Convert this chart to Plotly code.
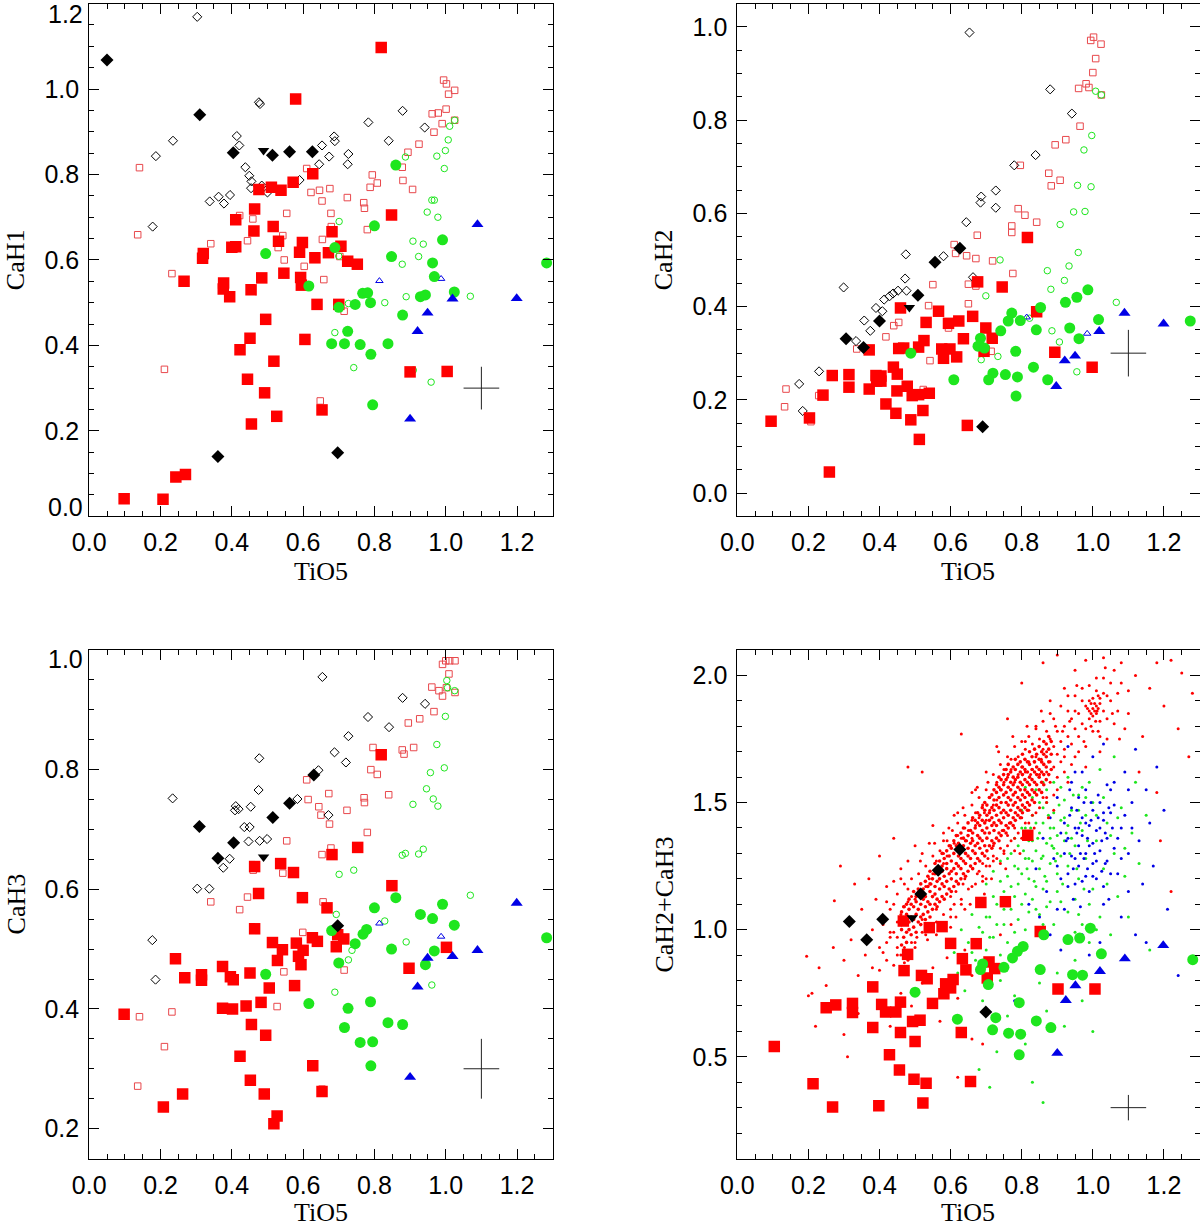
import plotly.graph_objects as go
from plotly.subplots import make_subplots

# ---------------- tick labels ----------------
TIO5_TICKS = [0.0, 0.2, 0.4, 0.6, 0.8, 1.0, 1.2]
CAH1_TICKS = [0.2, 0.4, 0.6, 0.8, 1.0]
CAH1_END_TICKS = [0.0, 1.2]
CAH2_TICKS = [0.0, 0.2, 0.4, 0.6, 0.8, 1.0]
CAH3_TICKS = [0.2, 0.4, 0.6, 0.8]
CAH3_END_TICKS = [1.0]
SUM_TICKS = [0.5, 1.0, 1.5, 2.0]

# typical error bar (centre and half widths)
ERR_X, ERR_Y, ERR_DX, ERR_DY = 1.1, 0.3, 0.05, 0.05

# ---------------- panel 1 : CaH1 vs TiO5 ----------------
CAH1_RED_FILLED = [(0.819,1.097),(0.579,0.977),(0.627,0.802),(0.572,0.782),(0.538,0.763),(0.511,0.770),(0.476,0.765),(0.464,0.719),(0.411,0.694),(0.462,0.668),(0.516,0.678),(0.531,0.644),(0.598,0.641),(0.681,0.666),(0.848,0.705),(0.706,0.632),(0.633,0.605),(0.590,0.618),(0.671,0.617),(0.725,0.597),(0.752,0.590),(0.320,0.615),(0.318,0.604),(0.400,0.630),(0.411,0.631),(0.377,0.546),(0.376,0.532),(0.266,0.550),(0.394,0.514),(0.454,0.530),(0.484,0.558),(0.546,0.569),(0.593,0.559),(0.595,0.541),(0.639,0.496),(0.700,0.496),(0.495,0.461),(0.451,0.417),(0.423,0.390),(0.605,0.414),(0.518,0.363),(0.444,0.321),(0.492,0.289),(0.526,0.234),(0.455,0.216),(0.653,0.249),(0.900,0.338),(1.004,0.339),(0.098,0.041),(0.207,0.040),(0.243,0.092),(0.270,0.098)]
CAH1_RED_OPEN = [(0.141,0.816),(0.136,0.659),(0.211,0.344),(0.232,0.568),(0.341,0.638),(0.422,0.704),(0.444,0.645),(0.459,0.696),(0.610,0.814),(0.622,0.758),(0.646,0.763),(0.653,0.738),(0.675,0.767),(0.678,0.709),(0.679,0.678),(0.654,0.648),(0.554,0.709),(0.543,0.657),(0.530,0.629),(0.547,0.600),(0.603,0.585),(0.724,0.746),(0.770,0.734),(0.772,0.721),(0.780,0.671),(0.794,0.799),(0.788,0.770),(0.808,0.780),(0.703,0.608),(0.658,0.554),(0.715,0.480),(0.648,0.270),(0.878,0.817),(0.880,0.786),(0.907,0.765),(0.894,0.852),(0.925,0.871),(0.967,0.899),(0.962,0.942),(0.979,0.944),(0.990,0.919),(1.001,0.953),(0.994,1.021),(1.002,1.012),(1.008,0.988),(1.025,0.997),(1.025,0.927)]
CAH1_BLACK_FILLED = [(0.050,1.068),(0.310,0.940),(0.404,0.851),(0.514,0.845),(0.562,0.853),(0.626,0.853),(0.361,0.140),(0.697,0.149)]
CAH1_BLACK_TRI = [(0.489,0.856)]
CAH1_BLACK_OPEN = [(0.303,1.169),(0.187,0.843),(0.235,0.879),(0.178,0.678),(0.338,0.737),(0.363,0.748),(0.378,0.732),(0.395,0.752),(0.414,0.890),(0.421,0.868),(0.438,0.817),(0.449,0.797),(0.455,0.784),(0.454,0.768),(0.476,0.969),(0.479,0.965),(0.484,0.774),(0.500,0.758),(0.590,0.787),(0.653,0.868),(0.673,0.842),(0.645,0.824),(0.687,0.889),(0.689,0.878),(0.727,0.848),(0.725,0.824),(0.783,0.922),(0.840,0.879),(0.879,0.949),(0.941,0.910)]
CAH1_GREEN_FILLED = [(0.860,0.822),(0.800,0.680),(0.991,0.647),(0.495,0.615),(0.689,0.629),(0.848,0.608),(0.963,0.593),(0.968,0.561),(1.283,0.593),(0.616,0.539),(0.767,0.522),(0.781,0.523),(0.700,0.489),(0.746,0.496),(0.789,0.500),(0.929,0.514),(0.943,0.518),(1.024,0.525),(0.879,0.471),(0.725,0.433),(0.680,0.404),(0.716,0.404),(0.760,0.402),(0.838,0.404),(0.790,0.379),(0.795,0.261)]
CAH1_GREEN_OPEN = [(1.011,0.913),(1.007,0.881),(0.999,0.856),(0.996,0.814),(0.975,0.843),(0.887,0.841),(0.961,0.740),(0.968,0.740),(0.948,0.712),(0.978,0.700),(0.908,0.644),(0.937,0.637),(0.924,0.608),(0.878,0.590),(0.701,0.690),(0.700,0.609),(1.069,0.515),(0.889,0.514),(0.829,0.500),(0.689,0.430),(0.727,0.498),(0.742,0.348),(0.959,0.314),(0.909,0.342),(1.025,0.927)]
CAH1_BLUE_FILLED = [(1.089,0.683),(1.199,0.510),(1.019,0.509),(0.949,0.476),(0.921,0.433),(0.900,0.228)]
CAH1_BLUE_OPEN = [(0.814,0.551),(0.987,0.556)]

# ---------------- panel 2 : CaH2 vs TiO5 ----------------
CAH2_RED_FILLED = [(0.816,0.548),(0.676,0.453),(0.745,0.442),(0.459,0.397),(0.566,0.390),(0.662,0.379),(0.531,0.366),(0.594,0.364),(0.623,0.369),(0.842,0.389),(0.699,0.354),(0.717,0.332),(0.636,0.331),(0.525,0.327),(0.510,0.313),(0.468,0.311),(0.454,0.310),(0.371,0.307),(0.575,0.309),(0.598,0.309),(0.580,0.289),(0.617,0.292),(0.694,0.304),(0.893,0.302),(0.998,0.270),(0.267,0.252),(0.314,0.254),(0.314,0.227),(0.241,0.210),(0.203,0.161),(0.095,0.154),(0.259,0.045),(0.390,0.252),(0.404,0.251),(0.392,0.240),(0.404,0.240),(0.371,0.223),(0.439,0.270),(0.450,0.255),(0.449,0.219),(0.418,0.191),(0.446,0.171),(0.478,0.229),(0.492,0.209),(0.510,0.211),(0.540,0.214),(0.488,0.157),(0.522,0.177),(0.512,0.115),(0.647,0.145)]
CAH2_RED_OPEN = [(1.002,0.978),(0.994,0.971),(1.023,0.963),(1.008,0.932),(1.000,0.902),(0.981,0.878),(0.989,0.870),(0.960,0.868),(1.024,0.854),(0.964,0.787),(0.894,0.747),(0.924,0.758),(0.796,0.703),(0.876,0.686),(0.883,0.659),(0.908,0.671),(0.790,0.610),(0.809,0.596),(0.772,0.573),(0.772,0.559),(0.842,0.581),(0.675,0.553),(0.610,0.533),(0.614,0.514),(0.645,0.509),(0.671,0.503),(0.718,0.498),(0.775,0.471),(0.550,0.447),(0.650,0.448),(0.671,0.444),(0.538,0.402),(0.650,0.406),(0.454,0.366),(0.440,0.359),(0.418,0.335),(0.336,0.309),(0.594,0.354),(0.542,0.284),(0.523,0.222),(0.137,0.223),(0.133,0.185),(0.207,0.153),(0.229,0.209),(0.714,0.304)]
CAH2_BLACK_FILLED = [(0.306,0.331),(0.355,0.312),(0.400,0.369),(0.508,0.424),(0.556,0.495),(0.626,0.525),(0.690,0.142)]
CAH2_BLACK_TRI = [(0.484,0.398)]
CAH2_BLACK_OPEN = [(0.653,0.988),(0.880,0.866),(0.941,0.814),(0.839,0.725),(0.779,0.703),(0.727,0.649),(0.727,0.612),(0.686,0.636),(0.684,0.623),(0.644,0.581),(0.580,0.508),(0.474,0.512),(0.299,0.441),(0.472,0.460),(0.476,0.434),(0.452,0.434),(0.438,0.428),(0.428,0.422),(0.413,0.415),(0.390,0.397),(0.408,0.390),(0.357,0.370),(0.374,0.348),(0.334,0.326),(0.230,0.261),(0.174,0.234),(0.184,0.176),(0.663,0.463)]
CAH2_GREEN_FILLED = [(0.772,0.386),(0.762,0.369),(0.796,0.370),(0.853,0.398),(0.923,0.409),(0.955,0.420),(0.986,0.436),(1.016,0.372),(0.935,0.354),(0.961,0.331),(0.841,0.350),(0.741,0.348),(0.684,0.332),(0.677,0.315),(0.695,0.311),(0.783,0.304),(0.833,0.270),(0.873,0.243),(0.719,0.257),(0.707,0.243),(0.754,0.254),(0.788,0.249),(0.784,0.208),(1.274,0.369),(0.488,0.300),(0.609,0.243)]
CAH2_GREEN_OPEN = [(1.008,0.862),(0.997,0.767),(0.975,0.736),(0.957,0.660),(0.995,0.657),(0.946,0.603),(0.978,0.604),(0.908,0.576),(0.959,0.516),(0.872,0.477),(0.933,0.487),(0.882,0.437),(0.920,0.456),(0.739,0.500),(0.699,0.423),(1.066,0.409),(0.686,0.286),(0.733,0.293),(0.885,0.348),(0.906,0.324),(0.955,0.260),(0.822,0.375),(1.024,0.854)]
CAH2_BLUE_FILLED = [(1.089,0.386),(1.199,0.363),(1.018,0.347),(0.950,0.294),(0.921,0.284),(0.897,0.229)]
CAH2_BLUE_OPEN = [(0.814,0.377),(0.984,0.342)]

# ---------------- panel 3 : CaH3 vs TiO5 ----------------
CAH3_RED_FILLED = [(0.819,0.825),(0.753,0.670),(0.681,0.658),(0.667,0.569),(0.849,0.606),(0.464,0.638),(0.537,0.643),(0.573,0.628),(0.475,0.593),(0.598,0.586),(0.464,0.534),(0.697,0.524),(0.714,0.517),(0.693,0.504),(0.626,0.519),(0.640,0.513),(0.514,0.511),(0.542,0.499),(0.581,0.510),(0.600,0.498),(0.587,0.488),(0.594,0.474),(0.528,0.481),(0.576,0.439),(0.505,0.435),(0.451,0.460),(0.374,0.471),(0.396,0.454),(0.404,0.449),(0.315,0.457),(0.315,0.448),(0.268,0.452),(0.242,0.484),(0.098,0.391),(0.374,0.401),(0.402,0.400),(0.440,0.405),(0.482,0.411),(0.455,0.374),(0.495,0.356),(0.423,0.321),(0.452,0.281),(0.262,0.258),(0.208,0.236),(0.491,0.258),(0.527,0.221),(0.518,0.208),(0.627,0.305),(0.653,0.262),(0.897,0.468),(1.002,0.503)]
CAH3_RED_OPEN = [(1.000,0.982),(1.011,0.982),(1.026,0.982),(0.991,0.976),(1.009,0.960),(0.961,0.938),(0.981,0.932),(0.991,0.923),(1.002,0.937),(1.026,0.929),(0.967,0.897),(0.927,0.885),(0.895,0.878),(0.910,0.837),(0.878,0.833),(0.883,0.826),(0.796,0.837),(0.790,0.800),(0.808,0.792),(0.840,0.758),(0.771,0.753),(0.772,0.745),(0.723,0.732),(0.780,0.695),(0.672,0.760),(0.644,0.738),(0.650,0.724),(0.674,0.709),(0.614,0.750),(0.610,0.783),(0.678,0.669),(0.653,0.658),(0.554,0.681),(0.543,0.627),(0.460,0.632),(0.444,0.587),(0.422,0.566),(0.341,0.579),(0.656,0.579),(0.599,0.528),(0.715,0.465),(0.546,0.462),(0.527,0.404),(0.141,0.387),(0.232,0.395),(0.211,0.337),(0.136,0.271),(0.653,0.266)]
CAH3_BLACK_FILLED = [(0.309,0.705),(0.361,0.652),(0.405,0.678),(0.515,0.720),(0.562,0.744),(0.630,0.791),(0.697,0.539)]
CAH3_BLACK_TRI = [(0.489,0.654)]
CAH3_BLACK_OPEN = [(0.654,0.955),(0.879,0.920),(0.942,0.910),(0.782,0.888),(0.841,0.871),(0.727,0.856),(0.688,0.829),(0.720,0.812),(0.643,0.799),(0.477,0.819),(0.234,0.752),(0.475,0.766),(0.584,0.751),(0.411,0.739),(0.419,0.734),(0.453,0.738),(0.435,0.704),(0.409,0.732),(0.450,0.704),(0.447,0.680),(0.478,0.681),(0.499,0.684),(0.394,0.651),(0.376,0.636),(0.303,0.601),(0.337,0.601),(0.177,0.515),(0.186,0.449),(0.671,0.724)]
CAH3_GREEN_FILLED = [(0.860,0.586),(0.800,0.569),(0.991,0.575),(0.929,0.558),(0.963,0.551),(1.024,0.540),(0.778,0.533),(0.768,0.525),(0.680,0.531),(0.746,0.509),(0.848,0.500),(0.968,0.497),(0.943,0.474),(0.700,0.477),(0.495,0.458),(0.616,0.409),(0.726,0.401),(0.789,0.412),(0.716,0.369),(0.838,0.377),(0.879,0.374),(0.760,0.344),(0.795,0.345),(0.790,0.305),(1.283,0.519)]
CAH3_GREEN_OPEN = [(0.999,0.889),(1.003,0.949),(1.005,0.937),(0.975,0.842),(0.996,0.803),(0.957,0.795),(0.946,0.768),(0.965,0.751),(0.978,0.739),(0.908,0.742),(0.878,0.657),(0.887,0.660),(0.924,0.659),(0.937,0.667),(0.701,0.625),(0.742,0.632),(1.069,0.590),(0.829,0.547),(0.693,0.558),(0.889,0.512),(0.727,0.482),(0.737,0.498),(0.689,0.428),(0.961,0.440),(1.025,0.932)]
CAH3_BLUE_FILLED = [(1.199,0.577),(1.089,0.498),(1.019,0.488),(0.949,0.485),(0.921,0.437),(0.900,0.286)]
CAH3_BLUE_OPEN = [(0.814,0.543),(0.987,0.521)]

# ---------------- panel 4 : CaH2+CaH3 vs TiO5 ----------------
SUM_RED_FILLED = [(0.685,1.107),(0.754,1.110),(0.467,1.034),(0.540,1.008),(0.576,1.012),(0.852,0.993),(0.600,0.946),(0.672,0.945),(0.479,0.903),(0.633,0.886),(0.643,0.842),(0.469,0.839),(0.518,0.820),(0.534,0.807),(0.708,0.873),(0.724,0.847),(0.703,0.810),(0.381,0.775),(0.586,0.787),(0.607,0.804),(0.581,0.748),(0.600,0.771),(0.549,0.710),(0.250,0.693),(0.277,0.704),(0.324,0.710),(0.324,0.674),(0.406,0.706),(0.417,0.676),(0.459,0.715),(0.446,0.676),(0.381,0.615),(0.459,0.596),(0.493,0.639),(0.514,0.644),(0.630,0.596),(0.500,0.560),(0.428,0.508),(0.456,0.448),(0.497,0.412),(0.531,0.396),(0.104,0.541),(0.213,0.394),(0.268,0.303),(0.398,0.307),(0.522,0.318),(0.656,0.403),(0.902,0.767),(1.006,0.767),(0.817,1.371)]
SUM_BLACK_FILLED = [(0.315,1.032),(0.364,0.960),(0.409,1.041),(0.516,1.140),(0.565,1.234),(0.626,1.315),(0.699,0.676)]
SUM_BLACK_TRI = [(0.492,1.047)]
SUM_GREEN_FILLED = [(0.993,1.006),(0.862,0.980),(0.930,0.961),(0.963,0.967),(0.804,0.934),(0.788,0.915),(0.774,0.889),(1.024,0.905),(0.690,0.865),(0.684,0.843),(0.706,0.784),(0.750,0.852),(0.852,0.843),(0.943,0.823),(0.971,0.821),(0.500,0.754),(0.793,0.713),(0.727,0.654),(0.718,0.606),(0.619,0.648),(0.763,0.593),(0.797,0.589),(0.841,0.641),(0.882,0.615),(0.793,0.508),(1.281,0.882)]
SUM_BLUE_FILLED = [(1.198,0.938),(1.090,0.886),(1.020,0.836),(0.951,0.780),(0.924,0.722),(0.900,0.514)]

# small dots of the comparison sample in panel 4: dense red ridge (x, list of y)
SUM_DOTS_RED_RIDGE = [
(0.462,[0.94,1.00,1.02,1.07]),(0.468,[0.97,1.04,1.09]),(0.476,[0.95,0.99,1.06,1.10]),(0.483,[1.00,1.03,1.08,1.12]),
(0.489,[0.98,1.05,1.10]),(0.496,[1.01,1.04,1.09,1.15]),(0.503,[0.99,1.06,1.11,1.13]),(0.509,[1.03,1.08,1.16]),
(0.516,[1.02,1.05,1.10,1.14,1.18]),(0.523,[1.06,1.12,1.16]),(0.529,[1.04,1.09,1.13,1.19]),(0.536,[1.07,1.11,1.17,1.21]),
(0.542,[1.05,1.10,1.15,1.18,1.23]),(0.549,[1.08,1.13,1.20]),(0.556,[1.10,1.14,1.17,1.22,1.26]),(0.562,[1.09,1.12,1.19,1.24]),
(0.569,[1.11,1.16,1.20,1.27]),(0.576,[1.13,1.18,1.23,1.25,1.30]),(0.582,[1.12,1.17,1.21,1.28]),(0.589,[1.14,1.19,1.24,1.26,1.31]),
(0.596,[1.16,1.22,1.29,1.33]),(0.602,[1.15,1.20,1.23,1.27,1.32]),(0.609,[1.17,1.24,1.30,1.35]),(0.616,[1.19,1.22,1.26,1.33,1.37]),
(0.622,[1.18,1.25,1.29,1.34]),(0.629,[1.20,1.24,1.28,1.31,1.38]),(0.636,[1.22,1.27,1.33,1.36,1.40]),(0.642,[1.21,1.26,1.30,1.35]),
(0.649,[1.23,1.29,1.32,1.37,1.42]),(0.656,[1.25,1.28,1.34,1.39]),(0.662,[1.24,1.31,1.35,1.38,1.44]),(0.669,[1.26,1.30,1.33,1.40,1.43]),
(0.676,[1.28,1.34,1.37,1.42,1.46]),(0.682,[1.27,1.32,1.36,1.41,1.45]),(0.689,[1.30,1.35,1.39,1.43,1.48]),(0.696,[1.29,1.33,1.38,1.42,1.47,1.50]),
(0.702,[1.31,1.36,1.40,1.45,1.49]),(0.709,[1.33,1.38,1.43,1.46,1.52]),(0.716,[1.32,1.35,1.41,1.44,1.48,1.53]),(0.722,[1.34,1.39,1.42,1.47,1.51,1.55]),
(0.729,[1.36,1.41,1.45,1.49,1.54,1.57]),(0.736,[1.35,1.38,1.43,1.48,1.52,1.56,1.60]),(0.742,[1.37,1.42,1.46,1.50,1.55,1.59]),(0.749,[1.39,1.44,1.47,1.53,1.57,1.61]),
(0.756,[1.38,1.41,1.46,1.50,1.54,1.59,1.63]),(0.762,[1.40,1.45,1.49,1.52,1.56,1.61,1.65]),(0.769,[1.42,1.47,1.51,1.55,1.58,1.62]),(0.776,[1.41,1.44,1.49,1.53,1.57,1.60,1.64]),
(0.782,[1.43,1.46,1.50,1.54,1.59,1.63,1.67]),(0.789,[1.45,1.48,1.52,1.56,1.60,1.65]),(0.796,[1.44,1.47,1.51,1.55,1.58,1.62,1.66]),(0.802,[1.46,1.49,1.53,1.57,1.61,1.64,1.69]),
(0.809,[1.48,1.52,1.55,1.59,1.63,1.67]),(0.816,[1.47,1.50,1.54,1.58,1.62,1.66]),(0.822,[1.49,1.53,1.57,1.60,1.65,1.70]),(0.829,[1.51,1.55,1.59,1.63,1.68]),
(0.836,[1.50,1.54,1.58,1.62,1.66,1.71]),(0.842,[1.53,1.57,1.61,1.64,1.69]),(0.849,[1.55,1.60,1.63,1.67,1.72]),(0.856,[1.54,1.58,1.62,1.66,1.70]),
(0.862,[1.57,1.61,1.65,1.69,1.74]),(0.869,[1.59,1.64,1.68,1.73]),(0.876,[1.61,1.66,1.71,1.76]),(0.883,[1.63,1.69,1.74]),
]
# red dots scattered around the ridge (x, y)
SUM_DOTS_RED_HALO = [
(0.40,0.84),(0.41,1.02),(0.42,0.95),(0.43,1.08),(0.44,0.86),(0.45,1.14),(0.46,0.90),(0.47,1.18),(0.48,0.88),(0.49,1.20),(0.50,0.93),(0.41,0.91),(0.43,0.99),(0.45,0.93),(0.47,0.87),(0.49,0.95),(0.42,1.11),(0.44,1.19),(0.46,1.24),(0.48,1.16),
(0.505,0.97),(0.51,1.22),(0.52,0.99),(0.53,1.25),(0.54,1.01),(0.55,1.29),(0.56,1.03),(0.57,1.31),(0.58,1.06),(0.59,1.35),(0.60,1.08),(0.515,1.27),(0.535,0.96),(0.555,1.34),(0.575,1.00),(0.595,1.40),(0.52,1.30),(0.54,1.34),(0.56,0.98),(0.58,1.38),(0.60,1.01),
(0.605,1.39),(0.61,1.10),(0.62,1.42),(0.63,1.12),(0.64,1.45),(0.65,1.16),(0.66,1.49),(0.67,1.18),(0.68,1.52),(0.69,1.21),(0.70,1.55),(0.615,1.05),(0.635,1.48),(0.655,1.10),(0.675,1.56),(0.695,1.14),(0.62,1.46),(0.64,1.08),(0.66,1.54),(0.68,1.12),(0.70,1.20),
(0.705,1.58),(0.71,1.25),(0.72,1.61),(0.73,1.28),(0.74,1.65),(0.75,1.31),(0.76,1.68),(0.77,1.35),(0.78,1.72),(0.79,1.38),(0.80,1.74),(0.715,1.20),(0.735,1.70),(0.755,1.24),(0.775,1.76),(0.795,1.30),(0.72,1.33),(0.74,1.26),(0.76,1.33),(0.78,1.31),(0.80,1.36),
(0.81,1.42),(0.82,1.76),(0.83,1.45),(0.84,1.79),(0.85,1.48),(0.86,1.82),(0.87,1.50),(0.88,1.85),(0.89,1.53),(0.90,1.60),(0.815,1.80),(0.835,1.40),(0.855,1.86),(0.875,1.44),(0.895,1.80),(0.83,1.73),(0.85,1.75),(0.87,1.78),(0.89,1.83),(0.81,1.74),
(0.91,1.88),(0.92,1.68),(0.93,1.92),(0.94,1.65),(0.95,1.86),(0.96,1.70),(0.97,1.90),(0.98,1.72),(0.99,1.96),(1.00,1.78),(1.01,1.99),(1.02,1.76),(1.03,1.93),(1.04,1.83),(1.05,1.90),(1.06,2.02),(1.07,1.86),(1.08,1.97),(1.09,1.79),(1.10,1.94),(0.915,1.78),(0.935,1.82),(0.955,1.96),(0.975,1.74),(0.995,1.80),(1.015,1.78),(1.035,2.03),(1.055,1.85),(1.075,1.75)]
# sparse red dots elsewhere (x, y)
SUM_DOTS_RED = [
(0.44,0.99),(0.45,1.03),(0.45,0.97),(0.46,1.06),(0.47,1.09),(0.48,1.11),(0.49,1.13),(0.50,1.12),(0.51,1.15),
(0.52,1.04),(0.53,1.17),(0.54,1.20),(0.55,1.22),(0.56,1.08),(0.57,1.23),(0.58,1.26),(0.565,1.24),(0.545,1.18),
(0.59,1.29),(0.60,1.13),(0.61,1.34),(0.62,1.31),(0.63,1.36),(0.64,1.20),(0.65,1.39),(0.615,1.15),(0.635,1.18),(0.645,1.35),
(0.66,1.36),(0.67,1.41),(0.68,1.44),(0.69,1.26),(0.70,1.43),(0.71,1.47),(0.72,1.49),(0.675,1.22),(0.695,1.46),(0.705,1.28),
(0.73,1.51),(0.74,1.55),(0.75,1.58),(0.76,1.60),(0.77,1.63),(0.78,1.58),(0.79,1.61),(0.80,1.64),(0.745,1.39),(0.765,1.42),
(0.81,1.62),(0.82,1.66),(0.83,1.63),(0.84,1.68),(0.85,1.61),(0.86,1.71),(0.825,1.61),(0.835,1.66),(0.855,1.67),
(0.67,1.46),(0.69,1.49),(0.71,1.52),(0.73,1.58),(0.75,1.63),(0.77,1.67),(0.79,1.68),(0.81,1.71),(0.64,1.40),(0.66,1.43),(0.62,1.37),(0.60,1.33),(0.58,1.30),(0.56,1.27),(0.68,1.23),(0.70,1.25),(0.72,1.29),(0.74,1.32),(0.76,1.37),(0.78,1.40),(0.80,1.44),(0.82,1.47),(0.84,1.46),(0.86,1.52),
(0.87,1.62),(0.87,1.70),(0.88,1.66),(0.88,1.75),(0.88,1.58),(0.89,1.72),(0.89,1.64),(0.90,1.69),(0.90,1.78),(0.91,1.74),(0.91,1.66),(0.92,1.80),(0.92,1.71),(0.93,1.76),(0.93,1.86),(0.94,1.73),(0.94,1.83),(0.95,1.79),(0.95,1.92),(0.96,1.85),(0.96,1.76),(0.97,1.81),(0.97,1.95),(0.98,1.88),(0.98,1.79),(0.99,1.86),(0.99,1.90),(1.00,1.87),(1.00,1.84),(1.00,1.91),(1.01,1.88),(1.01,1.85),(1.01,1.94),(1.02,1.82),(1.02,1.89),(1.03,1.86),(1.03,1.99),(1.04,1.92),(1.05,1.97),(1.005,1.86),(0.995,1.89),(1.015,1.87),
(0.995,1.85),(1.005,1.89),(1.012,1.86),(0.99,1.83),(1.02,1.91),(1.008,1.82),(0.985,1.87),(1.015,1.92),
(0.87,1.52),(0.90,1.55),(0.92,1.62),(0.95,1.68),(0.98,1.64),(1.02,1.70),(1.04,1.75),(1.06,1.81),(0.89,1.47),(0.93,1.58),
(0.20,0.74),(0.23,0.85),(0.25,0.78),(0.27,0.93),(0.29,1.25),(0.30,0.88),(0.32,0.96),(0.33,1.18),(0.34,0.82),(0.35,1.08),(0.36,0.90),(0.37,1.20),(0.38,0.85),(0.38,1.00),(0.39,1.12),(0.40,0.93),(0.40,1.29),(0.41,1.05),(0.42,0.88),(0.42,1.17),(0.43,0.97),(0.44,1.10),(0.44,1.36),(0.45,0.90),(0.46,1.20),(0.47,0.93),(0.48,1.27),(0.48,1.64),(0.50,0.95),(0.50,1.33),(0.52,1.62),(0.53,0.98),(0.55,1.41),(0.57,1.02),(0.58,1.35),(0.60,1.05),(0.61,1.45),(0.63,1.77),(0.63,1.10),(0.66,1.17),(0.67,1.55),(0.69,1.19),(0.70,1.62),(0.72,1.27),(0.73,1.72),(0.75,1.30),(0.76,1.83),(0.78,1.36),(0.80,1.97),(0.82,1.42),(0.84,1.80),(0.86,2.05),(0.88,1.90),(0.90,2.08),(0.92,1.95),(0.95,2.02),(0.98,2.06),(1.03,2.07),(1.07,1.93),(1.08,2.05),(1.10,1.85),(1.12,2.00),(1.14,1.76),(1.16,1.95),(1.18,2.05),(1.20,1.88),(1.22,2.06),(1.24,1.79),(1.25,2.01),(1.27,1.68),(1.28,1.93),(1.13,1.62),(1.19,1.35),(1.22,1.15),(1.18,1.54),
(0.21,0.75),(0.22,0.62),(0.31,0.50),(0.34,0.67),(0.37,0.79),(0.41,0.71),(0.43,0.62),(0.46,0.75),(0.49,0.70),(0.52,0.79),(0.55,0.85),(0.57,0.64),(0.59,0.89),(0.62,0.73),(0.64,0.92),(0.66,0.82),(0.68,0.95),(0.71,0.88),(0.74,0.98),(0.77,1.02),(0.69,0.55),(0.62,0.42),(0.66,0.57),(0.195,0.895),(0.273,1.114),(0.30,0.588)]
SUM_DOTS_GREEN = [
(0.78,1.25),(0.79,1.18),(0.79,1.33),(0.80,1.22),(0.80,1.40),(0.81,1.28),(0.81,1.14),(0.82,1.35),(0.82,1.20),(0.83,1.45),(0.83,1.27),(0.84,1.31),(0.84,1.17),(0.85,1.38),(0.85,1.24),(0.85,1.50),(0.86,1.29),(0.86,1.42),(0.87,1.34),(0.87,1.19),(0.87,1.55),(0.88,1.40),(0.88,1.26),(0.89,1.32),(0.89,1.46),(0.90,1.37),(0.90,1.22),(0.91,1.43),(0.91,1.29),(0.92,1.51),(0.92,1.35),(0.93,1.41),(0.93,1.25),(0.94,1.47),(0.95,1.33),(0.96,1.53),(0.97,1.39),(0.98,1.45),(0.99,1.58),(1.00,1.50),(0.88,1.11),(0.84,1.08),(0.86,1.02),(0.90,1.15),(0.93,1.60),(0.89,1.58),(0.86,1.48),(0.83,1.52),(0.80,1.47),(0.81,1.56),
(0.65,0.95),(0.66,1.06),(0.67,0.88),(0.68,1.12),(0.69,0.99),(0.70,1.18),(0.70,0.92),(0.71,1.05),(0.72,1.23),(0.72,0.97),(0.73,1.10),(0.74,0.90),(0.74,1.27),(0.75,1.02),(0.75,1.15),(0.76,0.95),(0.76,1.21),(0.77,1.08),(0.77,1.30),(0.78,0.99),(0.78,1.13),(0.79,1.04),(0.80,0.93),(0.81,1.00),(0.82,1.07),(0.62,0.83),(0.63,1.00),(0.64,0.76),(0.61,0.91),
(0.95,1.12),(0.96,1.20),(0.97,1.02),(0.98,1.28),(0.99,0.95),(1.00,1.16),(1.01,1.35),(1.02,1.05),(1.03,1.24),(1.04,1.42),(1.05,0.98),(1.06,1.30),(1.07,1.13),(1.08,1.48),(1.09,1.21),(1.10,1.05),(1.11,1.38),(1.12,1.58),(1.13,1.26),(1.15,1.45),(1.16,0.92),(1.02,1.63),(1.06,1.68),
(0.64,0.58),(0.68,0.45),(0.71,0.38),(0.73,0.52),(0.76,0.66),(0.78,0.74),(0.81,0.55),(0.83,0.40),(0.85,0.79),(0.87,0.68),(0.90,0.83),(0.92,0.62),(0.95,0.88),(0.97,0.72),(1.00,0.60),(0.86,0.32),(0.74,0.80),(0.69,0.72),
(0.805,1.31),(0.815,1.24),(0.825,1.40),(0.835,1.19),(0.845,1.36),(0.855,1.28),(0.865,1.21),(0.875,1.45),(0.885,1.33),(0.895,1.27),(0.905,1.49),(0.915,1.18),(0.925,1.38),(0.935,1.30),(0.945,1.53),(0.955,1.24),(0.965,1.42),(0.975,1.16),(0.985,1.35),(0.83,1.12),(0.85,1.06),(0.87,1.09),(0.89,1.02),(0.91,1.11),(0.93,1.07),(0.95,0.99),(0.80,1.10),(0.82,1.28),(0.84,1.42),(0.86,1.16),(0.88,1.36),(0.90,1.30),(0.92,1.44),(0.94,1.36),(0.96,1.47),(0.98,1.52),(0.78,1.36),(0.76,1.28),(0.74,1.19),(0.72,1.13),(0.70,1.05),(0.68,1.01),(0.66,0.91),(0.71,0.97),(0.73,1.02),(0.75,1.08),(0.77,1.17),(0.79,1.24),(0.81,1.40),(0.83,1.35),(0.87,1.50),(0.89,1.40),(0.91,1.56),(0.97,1.56),(1.01,1.45),(1.03,1.52),(1.05,1.37),(1.07,1.44),(1.09,1.32),(0.99,1.10),(1.01,1.00),(1.04,1.18),(0.96,1.06),(0.86,1.58),(0.84,1.55)]
SUM_DOTS_BLUE = [
(0.92,1.30),(0.92,1.42),(0.93,1.22),(0.93,1.36),(0.94,1.48),(0.94,1.29),(0.95,1.40),(0.95,1.18),(0.96,1.33),(0.96,1.52),(0.96,1.25),(0.97,1.44),(0.97,1.37),(0.98,1.21),(0.98,1.30),(0.98,1.55),(0.99,1.41),(0.99,1.15),(1.00,1.34),(1.00,1.47),(1.00,1.26),(1.01,1.39),(1.01,1.20),(1.02,1.31),(1.02,1.50),(1.03,1.43),(1.03,1.17),(1.04,1.36),(1.04,1.27),(1.05,1.46),(1.05,1.55),(1.06,1.32),(0.935,1.55),(0.955,1.47),(0.975,1.28),(0.985,1.36),(0.995,1.50),(1.015,1.44),(1.025,1.23),(1.035,1.38),(0.945,1.12),(0.965,1.09),(1.045,1.12),
(0.82,1.10),(0.84,1.24),(0.85,1.05),(0.86,1.36),(0.87,1.15),(0.88,1.44),(0.88,0.98),(0.89,1.28),(0.90,1.52),(0.90,1.08),(0.91,1.20),(0.91,0.92),(1.06,1.58),(1.07,1.22),(1.08,1.40),(1.08,1.05),(1.09,1.62),(1.10,1.30),(1.10,1.15),(1.11,1.50),(1.12,0.98),(1.12,1.71),(1.13,1.35),(1.14,1.18),(1.15,1.55),(1.16,1.42),(1.17,1.25),(1.18,1.64),(1.20,1.47),(1.21,1.08),(1.15,0.95),(0.95,1.62),(1.00,1.68),(1.03,1.73),(0.97,0.98),(1.02,0.95),(0.80,0.93),(0.78,0.72),(0.86,0.85),(0.99,0.90),(1.24,0.82),(0.93,1.72),
(0.925,1.35),(0.935,1.45),(0.945,1.24),(0.955,1.38),(0.965,1.30),(0.975,1.50),(0.985,1.24),(0.995,1.43),(1.005,1.30),(1.015,1.53),(1.025,1.35),(1.035,1.26),(1.045,1.48),(1.055,1.40),(0.93,1.17),(0.95,1.28),(0.97,1.19),(0.99,1.33),(1.01,1.27),(1.03,1.46),(1.05,1.22),(1.07,1.36),(1.09,1.45),(0.91,1.38),(0.90,1.25),(0.94,1.58),(0.98,1.42),(1.02,1.40),(1.04,1.57),(1.06,1.49),(1.08,1.28),(1.11,1.40),(0.96,1.40),(1.00,1.21),(0.97,1.62),(1.03,1.10),(0.92,1.08),(1.10,1.55)]

# ---------------- styling ----------------
RED = '#ff0000'
RED_OPEN = '#e8484c'
GREEN = '#1ee61e'
BLUE = '#0000e6'
BLACK = '#000000'

STYLE = {
    'red_open':   dict(symbol='square-open', size=6.5, color=RED_OPEN, line=dict(width=1, color=RED_OPEN)),
    'black_open': dict(symbol='diamond-open', size=7, color=BLACK, line=dict(width=1, color=BLACK)),
    'green_open': dict(symbol='circle-open', size=6.5, color=GREEN, line=dict(width=1, color=GREEN)),
    'blue_open':  dict(symbol='triangle-up-open', size=6.5, color=BLUE, line=dict(width=1, color=BLUE)),
    'red':        dict(symbol='square', size=11.5, color=RED, line=dict(width=0)),
    'green':      dict(symbol='circle', size=11, color=GREEN, line=dict(width=0)),
    'black':      dict(symbol='diamond', size=10, color=BLACK, line=dict(width=0)),
    'black_tri':  dict(symbol='triangle-down', size=10, color=BLACK, line=dict(width=0)),
    'blue':       dict(symbol='triangle-up', size=10.5, color=BLUE, line=dict(width=0)),
    'dot_red':    dict(symbol='circle', size=3, color=RED, line=dict(width=0)),
    'dot_ridge':  dict(symbol='circle', size=3.6, color=RED, line=dict(width=0)),
    'dot_green':  dict(symbol='circle', size=3, color=GREEN, line=dict(width=0)),
    'dot_blue':   dict(symbol='circle', size=3, color=BLUE, line=dict(width=0)),
}

fig = make_subplots(rows=2, cols=2)


def add_pts(pts, style, row, col):
    xs = [p[0] for p in pts]
    ys = [p[1] for p in pts]
    fig.add_trace(go.Scatter(x=xs, y=ys, mode='markers', marker=STYLE[style],
                             showlegend=False, hoverinfo='skip'), row=row, col=col)


def add_err(row, col):
    fig.add_trace(go.Scatter(x=[ERR_X], y=[ERR_Y], mode='markers',
                             marker=dict(size=1, color='rgba(0,0,0,0)'),
                             error_x=dict(type='data', array=[ERR_DX], width=0, thickness=1, color='#222222'),
                             error_y=dict(type='data', array=[ERR_DY], width=0, thickness=1, color='#222222'),
                             showlegend=False, hoverinfo='skip'), row=row, col=col)


PANELS = [
    (1, 1, CAH1_RED_OPEN, CAH1_BLACK_OPEN, CAH1_GREEN_OPEN, CAH1_BLUE_OPEN,
     CAH1_RED_FILLED, CAH1_GREEN_FILLED, CAH1_BLACK_FILLED, CAH1_BLACK_TRI, CAH1_BLUE_FILLED),
    (1, 2, CAH2_RED_OPEN, CAH2_BLACK_OPEN, CAH2_GREEN_OPEN, CAH2_BLUE_OPEN,
     CAH2_RED_FILLED, CAH2_GREEN_FILLED, CAH2_BLACK_FILLED, CAH2_BLACK_TRI, CAH2_BLUE_FILLED),
    (2, 1, CAH3_RED_OPEN, CAH3_BLACK_OPEN, CAH3_GREEN_OPEN, CAH3_BLUE_OPEN,
     CAH3_RED_FILLED, CAH3_GREEN_FILLED, CAH3_BLACK_FILLED, CAH3_BLACK_TRI, CAH3_BLUE_FILLED),
]
for (r, c, ro, bo, go_, blo, rf, gf, bf, bt, blf) in PANELS:
    add_pts(ro, 'red_open', r, c)
    add_pts(bo, 'black_open', r, c)
    add_pts(go_, 'green_open', r, c)
    add_pts(blo, 'blue_open', r, c)
    add_pts(rf, 'red', r, c)
    add_pts(gf, 'green', r, c)
    add_pts(bf, 'black', r, c)
    add_pts(bt, 'black_tri', r, c)
    add_pts(blf, 'blue', r, c)
    add_err(r, c)

# panel 4
ridge_pts = [(x, y) for x, ys in SUM_DOTS_RED_RIDGE for y in ys]
add_pts(SUM_DOTS_GREEN, 'dot_green', 2, 2)
add_pts(SUM_DOTS_BLUE, 'dot_blue', 2, 2)
add_pts(SUM_DOTS_RED, 'dot_red', 2, 2)
add_pts(SUM_DOTS_RED_HALO, 'dot_red', 2, 2)
add_pts(ridge_pts, 'dot_ridge', 2, 2)
add_pts(SUM_RED_FILLED, 'red', 2, 2)
add_pts(SUM_GREEN_FILLED, 'green', 2, 2)
add_pts(SUM_BLACK_FILLED, 'black', 2, 2)
add_pts(SUM_BLACK_TRI, 'black_tri', 2, 2)
add_pts(SUM_BLUE_FILLED, 'blue', 2, 2)
add_err(2, 2)

# ---------------- axes ----------------
W, H = 1200, 1226
X_LEFT = [89.2 / W, 552.7 / W]
X_RIGHT = [737.3 / W, 1199.5 / W]
Y_TOP = [1 - 516.3 / H, 1 - 3.6 / H]
Y_BOT = [1 - 1158.5 / H, 1 - 650.0 / H]

TICK_FONT = dict(family='Liberation Sans, Arial, sans-serif', size=25, color='black')
TITLE_FONT = dict(family='Liberation Serif, Times New Roman, serif', size=26, color='black')

common = dict(showline=True, linecolor='black', linewidth=1, mirror='allticks',
              ticks='inside', ticklen=10, tickwidth=1, tickcolor='black',
              showgrid=False, zeroline=False, tickfont=TICK_FONT, automargin=False)


def xax(domain):
    return dict(common, domain=domain, range=[0, 1.3], tickvals=TIO5_TICKS,
                ticktext=['%.1f' % v for v in TIO5_TICKS], ticklabelstandoff=4,
                minor=dict(ticks='inside', ticklen=5, tickwidth=1, tickcolor='black',
                           dtick=0.05, tick0=0, showgrid=False))


def yax(domain, rng, vals, minor_dt):
    return dict(common, domain=domain, range=rng, tickvals=vals,
                ticktext=['%.1f' % v for v in vals], ticklabelstandoff=4,
                minor=dict(ticks='inside', ticklen=5, tickwidth=1, tickcolor='black',
                           dtick=minor_dt, tick0=0, showgrid=False))


fig.update_layout(
    width=W, height=H, margin=dict(l=0, r=0, t=0, b=0, autoexpand=False),
    paper_bgcolor='white', plot_bgcolor='white', showlegend=False,
    xaxis=xax(X_LEFT), xaxis2=xax(X_RIGHT), xaxis3=xax(X_LEFT), xaxis4=xax(X_RIGHT),
    yaxis=yax(Y_TOP, [0, 1.2], CAH1_TICKS, 0.05),
    yaxis2=yax(Y_TOP, [-0.05, 1.05], CAH2_TICKS, 0.05),
    yaxis3=yax(Y_BOT, [0.15, 1.0], CAH3_TICKS, 0.05),
    yaxis4=yax(Y_BOT, [0.1, 2.1], SUM_TICKS, 0.1),
)

annotations = []
# labels at the ends of the y axes are drawn shifted inward, as in the original
for v in CAH1_END_TICKS:
    annotations.append(dict(text='%.1f' % v, xref='x domain', x=0, xanchor='right', xshift=-4,
                            yref='y', y=v, yanchor='middle', yshift=(-10 if v > 0.5 else 9),
                            showarrow=False, font=TICK_FONT))
for v in CAH3_END_TICKS:
    annotations.append(dict(text='%.1f' % v, xref='x3 domain', x=0, xanchor='right', xshift=-4,
                            yref='y3', y=v, yanchor='middle', yshift=-9,
                            showarrow=False, font=TICK_FONT))

XTITLES = [('x', 'y', 'TiO5', -55), ('x2', 'y2', 'TiO5', -55), ('x3', 'y3', 'TiO5', -54), ('x4', 'y4', 'TiO5', -54)]
YTITLES = [('x', 'y', 'CaH1'), ('x2', 'y2', 'CaH2'), ('x3', 'y3', 'CaH3'), ('x4', 'y4', 'CaH2+CaH3')]
for xa, ya, t, sh in XTITLES:
    annotations.append(dict(text=t, xref=xa + ' domain', x=0.5, xanchor='center',
                            yref=ya + ' domain', y=0, yanchor='middle', yshift=sh,
                            showarrow=False, font=TITLE_FONT))
for xa, ya, t in YTITLES:
    annotations.append(dict(text=t, xref=xa + ' domain', x=0, xanchor='center', xshift=-73,
                            yref=ya + ' domain', y=0.5, yanchor='middle', textangle=-90,
                            showarrow=False, font=TITLE_FONT))
fig.update_layout(annotations=annotations)

fig.write_html('out.html')
